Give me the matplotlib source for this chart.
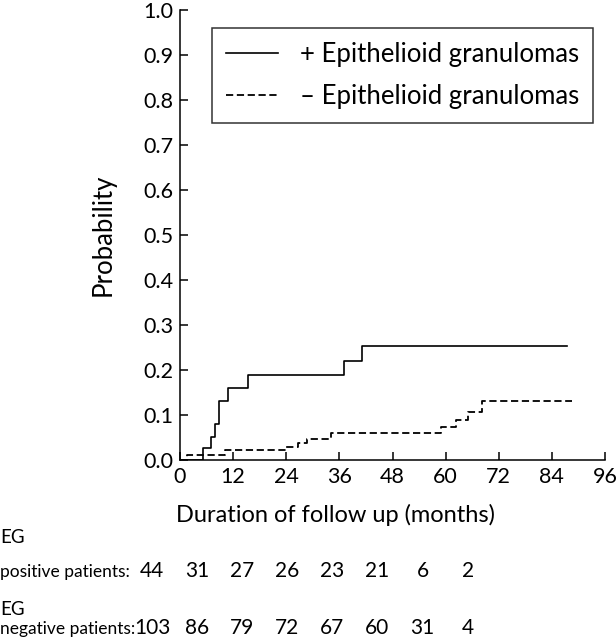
import matplotlib
matplotlib.use("Agg")
import matplotlib.pyplot as plt
import numpy as np

plt.rcParams['font.family'] = ['Lato', 'DejaVu Sans']

# cumulative probability, + epithelioid granulomas (step curve)
months_pos = [0, 5.25, 6.9, 7.9, 8.85, 10.9, 15.3, 37.1, 41.0, 87.5]
prob_pos = [0, 0.027, 0.052, 0.079, 0.131, 0.159, 0.189, 0.219, 0.253, 0.253]

# cumulative probability, - epithelioid granulomas
months_neg = [0, 1.5, 10.1, 24.0, 26.7, 28.7, 34.1, 58.9, 62.3, 65.1, 68.3, 88.5]
prob_neg = [0, 0.012, 0.022, 0.03, 0.037, 0.046, 0.059, 0.074, 0.089, 0.107, 0.131, 0.131]

x_ticks = [0, 12, 24, 36, 48, 60, 72, 84, 96]
y_ticks = [0.0, 0.1, 0.2, 0.3, 0.4, 0.5, 0.6, 0.7, 0.8, 0.9, 1.0]

# patients at risk table
at_risk_pos = [44, 31, 27, 26, 23, 21, 6, 2]
at_risk_neg = [103, 86, 79, 72, 67, 60, 31, 4]

W, H = 616, 640
fig = plt.figure(figsize=(6.16, 6.4), dpi=100)
ax = fig.add_axes([180 / W, 1 - 460 / H, (605 - 180) / W, 450 / H])

ax.step(months_pos, prob_pos, where='post', color='black', lw=1.2,
        label='+ Epithelioid granulomas')
ax.step(months_neg, prob_neg, where='post', color='black', lw=1.3,
        dashes=(4, 2), label='\u2013 Epithelioid granulomas')

ax.set_xlim(0, 96)
ax.set_ylim(0, 1.0)
ax.set_xticks(x_ticks)
ax.set_yticks(y_ticks)
ax.set_yticklabels(['%.1f' % v for v in y_ticks])
ax.tick_params(direction='in', length=6, width=1.1, labelsize=15.5, pad=5)
for s in ['top', 'right']:
    ax.spines[s].set_visible(False)
for s in ['left', 'bottom']:
    ax.spines[s].set_linewidth(1.1)

fig.text(103 / W, 1 - 235 / H, 'Probability', fontsize=18.5, rotation=90,
         ha='center', va='center')
fig.text(336 / W, 1 - 515 / H, 'Duration of follow up (months)', fontsize=17,
         ha='center', va='center')

leg = ax.legend(loc='upper right', bbox_to_anchor=(593 / W, 1 - 28 / H),
                bbox_transform=fig.transFigure, fontsize=18.5, frameon=True,
                fancybox=False, edgecolor='black', handlelength=2.0,
                handletextpad=0.85, borderpad=0.55, labelspacing=0.65,
                borderaxespad=0)
leg.get_frame().set_linewidth(1.1)

# at-risk table below the axis (baselines in pixels from top)
fig.text(0, 1 - 543 / H, 'EG', fontsize=13.5, ha='left', va='baseline')
fig.text(0, 1 - 577 / H, 'positive patients:', fontsize=12.5, ha='left', va='baseline')
fig.text(0, 1 - 615 / H, 'EG', fontsize=13.5, ha='left', va='baseline')
fig.text(0, 1 - 634 / H, 'negative patients:', fontsize=12.5, ha='left', va='baseline')
for i, (p, n) in enumerate(zip(at_risk_pos, at_risk_neg)):
    xc = (152 + i * 45.1) / W
    fig.text(xc, 1 - 577 / H, str(p), fontsize=15, ha='center', va='baseline')
    fig.text(xc, 1 - 634 / H, str(n), fontsize=15, ha='center', va='baseline')

fig.savefig('out.png', dpi=100)
